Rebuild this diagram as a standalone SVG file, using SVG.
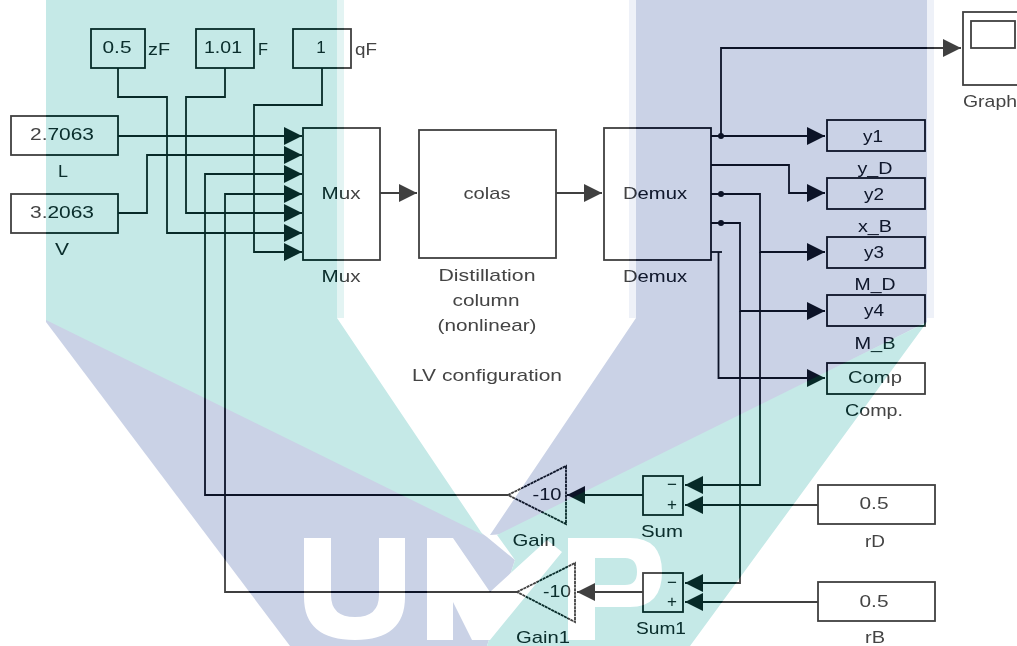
<svg xmlns="http://www.w3.org/2000/svg" width="1017" height="646" viewBox="0 0 1017 646">
<style>
.b{fill:none;stroke:#404040;stroke-width:1.8}
.w{fill:none;stroke:#404040;stroke-width:1.8;marker-end:url(#a)}
.p{fill:none;stroke:#404040;stroke-width:1.8}
text{font-family:"Liberation Sans",Arial,sans-serif;font-size:17px;fill:#444;text-anchor:middle}
</style>
<defs>
<marker id="a" markerUnits="userSpaceOnUse" markerWidth="20" markerHeight="20" refX="18" refY="9.500" orient="auto"><path d="M0 0.500L18 9.500L0 18.500Z" fill="#404040"/></marker>
<g id="wm">
<rect x="337" y="0" width="7" height="318" fill="#e3f4f3"/>
<rect x="629" y="0" width="7" height="318" fill="#eef1f8"/>
<rect x="927" y="0" width="7" height="318" fill="#eef1f8"/>
<path d="M46 318L300 400L487 537L515 560L487 646H290L46 322Z" fill="#cad2e6"/>
<path d="M46 0H337V318L483 535L46 320Z" fill="#c5e9e7"/>
<path d="M636 0H927V322L505 534L490 535L636 318Z" fill="#cad2e6"/>
<path d="M927 322L690 646H487L515 560L497 535Z" fill="#c5e9e7"/>
<g fill="#fff">
<path d="M304 538H331V595Q331 617 355 617Q379 617 379 595V538H405V597Q405 640 355 640Q304 640 304 597Z"/>
<path d="M427 538H453L490 592L547 540L562 552L490 640H472L453 602V640H427Z"/>
<path fill-rule="evenodd" d="M568 538H630Q662 538 662 572Q662 607 630 607H595V640H568ZM595 558V585H625Q637 585 637 572Q637 558 625 558Z"/>
</g>
</g>
</defs>
<rect width="1017" height="646" fill="#fff"/>
<g id="connectors">
<path class="w" d="M118 68V97H167V233H302"/>
<path class="w" d="M225 68V97H186V213H302"/>
<path class="w" d="M322 68V105H254V252H302"/>
<path class="w" d="M118 136H302"/>
<path class="w" d="M118 213H147V155H302"/>
<path class="w" d="M508 495H205V174H302"/>
<path class="w" d="M517 592H225V194H302"/>
<path class="w" d="M380 193H417"/>
<path class="w" d="M556 193H602"/>
<path class="w" d="M721 136V48H961"/>
<path class="w" d="M711 136H825"/>
<path class="w" d="M711 165H789V193H825"/>
<path class="w" d="M711 194H760V252H825"/>
<path class="w" d="M760 252V485H685"/>
<path class="w" d="M711 223H740V311H825"/>
<path class="w" d="M740 311V583H685"/>
<path class="p" d="M711 252H722"/>
<path class="w" d="M718.500 252V378H825"/>
<path class="w" d="M818 505H685"/>
<path class="w" d="M818 602H685"/>
<path class="w" d="M643 495H567"/>
<path class="w" d="M643 592H577"/>
<circle cx="721" cy="136" r="3" fill="#404040"/>
<circle cx="721" cy="194" r="3" fill="#404040"/>
<circle cx="721" cy="223" r="3" fill="#404040"/>
</g>
<g id="zF"><rect class="b" x="91" y="29" width="54" height="39"/><text x="117" y="53" textLength="29" lengthAdjust="spacingAndGlyphs">0.5</text><text x="159" y="55" textLength="22" lengthAdjust="spacingAndGlyphs">zF</text></g>
<g id="F"><rect class="b" x="196" y="29" width="58" height="39"/><text x="223" y="53" textLength="38" lengthAdjust="spacingAndGlyphs">1.01</text><text x="263" y="55" textLength="10" lengthAdjust="spacingAndGlyphs">F</text></g>
<g id="qF"><rect class="b" x="293" y="29" width="58" height="39"/><text x="321" y="53">1</text><text x="366" y="55" textLength="22" lengthAdjust="spacingAndGlyphs">qF</text></g>
<g id="L"><rect class="b" x="11" y="116" width="107" height="39"/><text x="62" y="140" textLength="64" lengthAdjust="spacingAndGlyphs">2.7063</text><text x="63" y="177" textLength="10" lengthAdjust="spacingAndGlyphs">L</text></g>
<g id="V"><rect class="b" x="11" y="194" width="107" height="39"/><text x="62" y="218" textLength="64" lengthAdjust="spacingAndGlyphs">3.2063</text><text x="62" y="255" textLength="14" lengthAdjust="spacingAndGlyphs">V</text></g>
<g id="Mux"><rect class="b" x="303" y="128" width="77" height="132"/><text x="341" y="199" textLength="39" lengthAdjust="spacingAndGlyphs">Mux</text><text x="341" y="282" textLength="39" lengthAdjust="spacingAndGlyphs">Mux</text></g>
<g id="colas"><rect class="b" x="419" y="130" width="137" height="128"/><text x="487" y="199" textLength="47" lengthAdjust="spacingAndGlyphs">colas</text><text x="487" y="281" textLength="97" lengthAdjust="spacingAndGlyphs">Distillation</text><text x="486" y="306" textLength="67" lengthAdjust="spacingAndGlyphs">column</text><text x="487" y="331" textLength="99" lengthAdjust="spacingAndGlyphs">(nonlinear)</text><text x="487" y="381" textLength="150" lengthAdjust="spacingAndGlyphs">LV configuration</text></g>
<g id="Demux"><rect class="b" x="604" y="128" width="107" height="132"/><text x="655" y="199" textLength="64" lengthAdjust="spacingAndGlyphs">Demux</text><text x="655" y="282" textLength="64" lengthAdjust="spacingAndGlyphs">Demux</text></g>
<g id="Graph"><rect class="b" x="963" y="12" width="70" height="73"/><rect class="b" x="971" y="21" width="44" height="27"/><text x="990" y="107" textLength="54" lengthAdjust="spacingAndGlyphs">Graph</text></g>
<g id="y1"><rect class="b" x="827" y="120" width="98" height="31"/><text x="873" y="142" textLength="20" lengthAdjust="spacingAndGlyphs">y1</text><text x="875" y="174" textLength="35" lengthAdjust="spacingAndGlyphs">y_D</text></g>
<g id="y2"><rect class="b" x="827" y="178" width="98" height="31"/><text x="874" y="200" textLength="20" lengthAdjust="spacingAndGlyphs">y2</text><text x="875" y="232" textLength="34" lengthAdjust="spacingAndGlyphs">x_B</text></g>
<g id="y3"><rect class="b" x="827" y="237" width="98" height="31"/><text x="874" y="258" textLength="20" lengthAdjust="spacingAndGlyphs">y3</text><text x="875" y="290" textLength="41" lengthAdjust="spacingAndGlyphs">M_D</text></g>
<g id="y4"><rect class="b" x="827" y="295" width="98" height="31"/><text x="874" y="316" textLength="20" lengthAdjust="spacingAndGlyphs">y4</text><text x="875" y="349" textLength="41" lengthAdjust="spacingAndGlyphs">M_B</text></g>
<g id="Comp"><rect class="b" x="827" y="363" width="98" height="31"/><text x="875" y="383" textLength="54" lengthAdjust="spacingAndGlyphs">Comp</text><text x="874" y="416" textLength="58" lengthAdjust="spacingAndGlyphs">Comp.</text></g>
<g id="rD"><rect class="b" x="818" y="485" width="117" height="39"/><text x="874" y="509" textLength="29" lengthAdjust="spacingAndGlyphs">0.5</text><text x="875" y="547" textLength="20" lengthAdjust="spacingAndGlyphs">rD</text></g>
<g id="rB"><rect class="b" x="818" y="582" width="117" height="39"/><text x="874" y="607" textLength="29" lengthAdjust="spacingAndGlyphs">0.5</text><text x="875" y="643" textLength="20" lengthAdjust="spacingAndGlyphs">rB</text></g>
<g id="Sum"><rect class="b" x="643" y="476" width="40" height="39"/><text x="672" y="490">−</text><text x="672" y="510">+</text><text x="662" y="537" textLength="42" lengthAdjust="spacingAndGlyphs">Sum</text></g>
<g id="Sum1"><rect class="b" x="643" y="573" width="40" height="39"/><text x="672" y="588">−</text><text x="672" y="607">+</text><text x="661" y="634" textLength="50" lengthAdjust="spacingAndGlyphs">Sum1</text></g>
<g id="Gain"><path class="b" stroke-dasharray="3 .6" d="M508 495L566 466V524Z"/><text x="547" y="500" textLength="29" lengthAdjust="spacingAndGlyphs">-10</text><text x="534" y="546" textLength="43" lengthAdjust="spacingAndGlyphs">Gain</text></g>
<g id="Gain1"><path class="b" stroke-dasharray="3 .6" d="M517 592L575 563V622Z"/><text x="557" y="597" textLength="28" lengthAdjust="spacingAndGlyphs">-10</text><text x="543" y="643" textLength="54" lengthAdjust="spacingAndGlyphs">Gain1</text></g>
<use href="#wm" style="mix-blend-mode:color-burn"/>
<use href="#wm" style="mix-blend-mode:multiply"/>
</svg>
